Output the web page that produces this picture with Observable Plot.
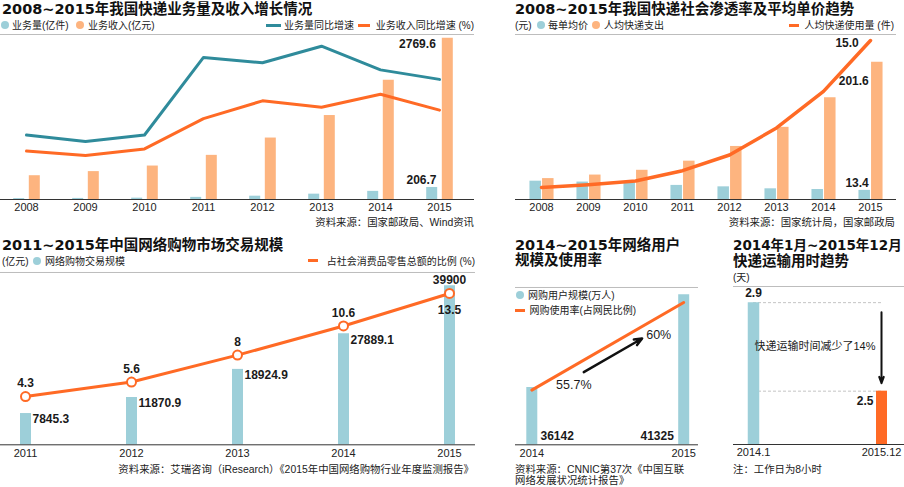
<!DOCTYPE html>
<html><head><meta charset="utf-8">
<script src="https://cdn.jsdelivr.net/npm/d3@7"></script>
<script src="https://cdn.jsdelivr.net/npm/@observablehq/plot@0.6"></script>
<style>
html,body{margin:0;padding:0;background:#fff}
body{width:904px;height:487px;position:relative;overflow:hidden;font-family:"Liberation Sans","Noto Sans CJK SC",sans-serif;color:#1a1a1a}
.a{position:absolute;white-space:nowrap}
.t{font-family:"DejaVu Sans","Noto Sans CJK SC",sans-serif;font-weight:700;font-size:14.5px;line-height:17px;color:#111}
.t2{font-family:"DejaVu Sans","Noto Sans CJK SC",sans-serif;font-weight:700;font-size:13.5px;line-height:17px;color:#111}
.s{font-size:10.4px;line-height:13px;color:#222}
.l{font-size:10px;line-height:13px;color:#222}
</style></head><body><script>
// ---------- data ----------
const years1 = [2008, 2009, 2010, 2011, 2012, 2013, 2014, 2015];
const volume = [15.1, 18.6, 23.4, 36.7, 56.9, 91.9, 139.6, 206.7];          // 业务量(亿件)
const revenue = [408.4, 479.0, 574.6, 758.0, 1055.3, 1441.7, 2045.4, 2769.6]; // 业务收入(亿元)
const volumeGrowth = [25.2, 22.5, 25.2, 57.0, 54.8, 61.6, 51.9, 48.0];     // 业务量同比增速(%)
const revenueGrowth = [18.6, 16.8, 19.5, 31.9, 39.2, 36.6, 41.9, 35.4];    // 业务收入同比增速(%)

const unitPrice = [26.9, 25.6, 24.6, 20.7, 18.6, 15.7, 14.7, 13.4];         // 每单均价(元)
const perCapitaSpend = [30.7, 35.9, 42.9, 56.3, 77.9, 106.0, 149.5, 201.6]; // 人均快递支出(元)
const perCapitaUse = [1.14, 1.40, 1.75, 2.72, 4.20, 6.75, 10.2, 15.0];      // 人均快递使用量(件)

const years3 = [2011, 2012, 2013, 2014, 2015];
const onlineRetail = [7845.3, 11870.9, 18924.9, 27889.1, 39900];  // 网络购物交易规模(亿元)
const retailShare = [4.3, 5.6, 8, 10.6, 13.5];                     // 占社会消费品零售总额的比例(%)

const years4 = [2014, 2015];
const onlineUsers = [36142, 41325]; // 网购用户规模(万人)
const onlineRate = [55.7, 60];      // 网购使用率(%)

const periods5 = ["2014.1", "2015.12"];
const deliveryDays = [2.9, 2.5];    // 快递运输用时(天)

// ---------- style ----------
const COL = {blue: "#9dcfd9", peach: "#fdb47f", teal: "#2f8b9b", orange: "#ff6a25", grid: "#bdbdbd", axis: "#333", ink: "#1a1a1a"};
const FONT = '"Liberation Sans","Noto Sans CJK SC",sans-serif';
const bold = {fontFamily: FONT, fontWeight: "bold", fontSize: 12, fill: COL.ink};
const yearFmt = d => String(d);

function base(width, frameH) {
  return {width, height: 2 + frameH + 20, marginTop: 2, marginBottom: 20, marginLeft: 0, marginRight: 0,
    style: {background: "none", overflow: "visible", fontFamily: FONT, fontSize: "11px", color: "#222"}};
}
function put(svg, left, top) {
  svg.style.position = "absolute"; svg.style.left = left + "px"; svg.style.top = (top - 2) + "px";
  document.body.appendChild(svg);
}
function label(text, x, y, cls, align) {
  const d = document.createElement("div");
  d.className = "a " + cls; d.textContent = text;
  d.style.left = x + "px"; d.style.top = y + "px";
  d.style.transform = align === "right" ? "translate(-100%,-50%)" : "translateY(-50%)";
  document.body.appendChild(d);
}
function dot(x, y, color) {
  const d = document.createElement("div");
  d.className = "a";
  Object.assign(d.style, {left: (x - 4) + "px", top: (y - 4) + "px", width: "8px", height: "8px", borderRadius: "50%", background: color});
  document.body.appendChild(d);
}
function dash(x1, x2, y, color) {
  const d = document.createElement("div");
  d.className = "a";
  Object.assign(d.style, {left: x1 + "px", top: (y - 1.5) + "px", width: (x2 - x1) + "px", height: "3px", background: color});
  document.body.appendChild(d);
}

// ---------- panel 1 ----------
const t1 = years1.map((year, i) => ({year, volume: volume[i], revenue: revenue[i], vg: volumeGrowth[i], rg: revenueGrowth[i]}));
const x1 = {type: "point", domain: years1, range: [25, 440.7], padding: 0, tickSize: 0, tickPadding: 4, tickFormat: yearFmt, label: null};
const y1Max = 2833;
const last1 = t1.slice(-1);
put(Plot.plot({...base(474, 165), x: x1, y: {domain: [0, y1Max], axis: null},
  marks: [
    Plot.ruleY([y1Max], {stroke: COL.grid}),
    Plot.ruleX(t1, {x: "year", y1: 0, y2: "volume", dx: -7.8, stroke: COL.blue, strokeWidth: 11}),
    Plot.ruleX(t1, {x: "year", y1: 0, y2: "revenue", dx: 7.8, stroke: COL.peach, strokeWidth: 11}),
    Plot.ruleY([0], {stroke: COL.axis}),
    Plot.text(last1, {x: "year", y: "revenue", text: d => d.revenue.toFixed(1), textAnchor: "end", dx: -3.7, dy: 5.6, ...bold}),
    Plot.text(last1, {x: "year", y: "volume", text: d => d.volume.toFixed(1), textAnchor: "end", dx: -3, dy: -7.5, ...bold})
  ]}), 0, 34);
put(Plot.plot({...base(474, 165), x: {...x1, axis: null}, y: {domain: [-1.23, 66.4], axis: null},
  marks: [
    Plot.line(t1, {x: "year", y: "vg", stroke: COL.teal, strokeWidth: 3}),
    Plot.line(t1, {x: "year", y: "rg", stroke: COL.orange, strokeWidth: 3})
  ]}), 0, 34);

label("2008~2015年我国快递业务量及收入增长情况", 2, 8.5, "t");
dot(5, 25, COL.blue); label("业务量(亿件)", 12, 25, "l");
dot(80, 25, COL.peach); label("业务收入(亿元)", 88, 25, "l");
dash(266, 281, 25, COL.teal); label("业务量同比增速", 284, 25, "l");
dash(358, 370, 25, COL.orange); label("业务收入同比增速 (%)", 474, 25, "l", "right");
label("资料来源：国家邮政局、Wind资讯", 474, 222, "s", "right");

// ---------- panel 2 ----------
const t2 = years1.map((year, i) => ({year, price: unitPrice[i], spend: perCapitaSpend[i], use: perCapitaUse[i]}));
const x2 = {type: "point", domain: years1, range: [23, 357], padding: 0, tickSize: 0, tickPadding: 4, tickFormat: yearFmt, label: null};
const y2Max = 242.3;
const last2 = t2.slice(-1);
put(Plot.plot({...base(381, 165), x: x2, y: {domain: [0, y2Max], axis: null},
  marks: [
    Plot.ruleY([y2Max], {stroke: COL.grid}),
    Plot.ruleX(t2, {x: "year", y1: 0, y2: "price", dx: -6.3, stroke: COL.blue, strokeWidth: 11.5}),
    Plot.ruleX(t2, {x: "year", y1: 0, y2: "spend", dx: 6.3, stroke: COL.peach, strokeWidth: 11.5}),
    Plot.ruleY([0], {stroke: COL.axis}),
    Plot.text(last2, {x: "year", y: "spend", text: d => d.spend.toFixed(1), textAnchor: "end", dx: -1.7, dy: 19.3, ...bold}),
    Plot.text(last2, {x: "year", y: "price", text: d => d.price.toFixed(1), textAnchor: "end", dx: -1.7, dy: -7.3, ...bold})
  ]}), 515, 34);
put(Plot.plot({...base(381, 165), x: {...x2, axis: null}, y: {domain: [0, 15.57], axis: null},
  marks: [
    Plot.line(t2, {x: "year", y: "use", stroke: COL.orange, strokeWidth: 3.5}),
    Plot.text(last2, {x: "year", y: "use", text: d => d.use.toFixed(1), textAnchor: "end", dx: -11.7, dy: 2.7, ...bold})
  ]}), 515, 34);

label("2008~2015年我国快递社会渗透率及平均单价趋势", 515, 8.5, "t");
label("(元)", 515, 25, "l");
dot(541.3, 25, COL.blue); label("每单均价", 548, 25, "l");
dot(596, 25, COL.peach); label("人均快递支出", 604, 25, "l");
dash(788.7, 798.7, 25, COL.orange); label("人均快递使用量 (件)", 894, 25, "l", "right");
label("资料来源：国家统计局，国家邮政局", 895, 222, "s", "right");

// ---------- panel 3 ----------
const t3 = years3.map((year, i) => ({year, value: onlineRetail[i], share: retailShare[i]}));
const x3 = {type: "point", domain: years3, range: [23.8, 450.5], padding: 0, tickSize: 0, tickPadding: 4, tickFormat: yearFmt, label: null};
const y3Max = 43238;
put(Plot.plot({...base(475, 172.3), x: x3, y: {domain: [0, y3Max], axis: null},
  marks: [
    Plot.ruleY([y3Max], {stroke: COL.grid}),
    Plot.ruleX(t3, {x: "year", y1: 0, y2: "value", stroke: COL.blue, strokeWidth: 11}),
    Plot.ruleY([0], {stroke: COL.axis}),
    Plot.text(t3.slice(0, -1), {x: "year", y: "value", text: d => String(d.value), textAnchor: "start", dx: 7, dy: 6, ...bold}),
    Plot.text(t3.slice(-1), {x: "year", y: "value", text: d => String(d.value), dy: -6, ...bold})
  ]}), 0, 271.7);
put(Plot.plot({...base(475, 172.3), x: {...x3, axis: null}, y: {domain: [0, 15.37], axis: null},
  marks: [
    Plot.line(t3, {x: "year", y: "share", stroke: COL.orange, strokeWidth: 3}),
    Plot.dot(t3, {x: "year", y: "share", r: 4.5, fill: "white", stroke: COL.orange, strokeWidth: 2}),
    Plot.text(t3.slice(0, -1), {x: "year", y: "share", text: d => String(d.share), dy: -13, ...bold}),
    Plot.text(t3.slice(-1), {x: "year", y: "share", text: d => String(d.share), dy: 17, ...bold})
  ]}), 0, 271.7);

label("2011~2015年中国网络购物市场交易规模", 2, 245, "t");
label("(亿元)", 2, 260.7, "l");
dot(37, 260.7, COL.blue); label("网络购物交易规模", 45, 260.7, "l");
dash(308, 318, 260.7, COL.orange); label("占社会消费品零售总额的比例 (%)", 475, 260.7, "l", "right");
label("资料来源：艾瑞咨询（iResearch）《2015年中国网络购物行业年度监测报告》", 474, 468.7, "s", "right");

// ---------- panel 4 ----------
const t4 = years4.map((year, i) => ({year, users: onlineUsers[i], rate: onlineRate[i]}));
const x4 = {type: "linear", domain: [2014, 2015], range: [16.3, 168.2], ticks: years4, tickFormat: yearFmt, tickSize: 0, tickPadding: 4, label: null};
const y4 = [32938, 41733];
put(Plot.plot({...base(183, 157.3), x: x4, y: {domain: y4, axis: null},
  marks: [
    Plot.ruleY([y4[1]], {stroke: COL.grid}),
    Plot.ruleX(t4, {x: "year", y1: y4[0], y2: "users", stroke: COL.blue, strokeWidth: 11}),
    Plot.ruleY([y4[0]], {stroke: COL.axis}),
    Plot.text(t4.slice(0, 1), {x: "year", y: y4[0], text: d => String(d.users), textAnchor: "start", dx: 8.7, dy: -9, ...bold}),
    Plot.text(t4.slice(1), {x: "year", y: y4[0], text: d => String(d.users), textAnchor: "end", dx: -9.9, dy: -9, ...bold})
  ]}), 515, 286.7);
const rateArrow = [{x1: t4[0].year, y1: t4[0].rate, x2: t4[1].year, y2: t4[1].rate}];
const pctStyle = {fontFamily: FONT, fontSize: 12.5, fill: COL.ink};
put(Plot.plot({...base(183, 157.3), x: {...x4, axis: null}, y: {domain: [53.015, 60.737], axis: null},
  marks: [
    Plot.line(t4, {x: "year", y: "rate", stroke: COL.orange, strokeWidth: 3}),
    Plot.arrow(rateArrow, {x1: "x1", y1: "y1", x2: "x2", y2: "y2", insetStart: 60, insetEnd: 48, dy: 12, stroke: "#111", strokeWidth: 2.5, headLength: 5, headAngle: 45}),
    Plot.text(t4.slice(0, 1), {x: "year", y: "rate", text: d => d.rate + "%", dx: 42, dy: -5, ...pctStyle}),
    Plot.text(t4.slice(1), {x: "year", y: "rate", text: d => d.rate + "%", dx: -25, dy: 32.3, ...pctStyle})
  ]}), 515, 286.7);

label("2014~2015年网络用户", 515, 245, "t");
label("规模及使用率", 515, 260, "t");
dot(520, 295, COL.blue); label("网购用户规模(万人)", 528, 295, "l");
dash(515, 525, 310, COL.orange); label("网购使用率(占网民比例)", 529.5, 310, "l");
label("资料来源：CNNIC第37次《中国互联", 515, 469.3, "s");
label("网络发展状况统计报告》", 515, 479.5, "s");

// ---------- panel 5 ----------
const t5 = periods5.map((period, i) => ({period, days: deliveryDays[i]}));
const x5 = {type: "point", domain: periods5, range: [19.5, 148.2], padding: 0, tickSize: 0, tickPadding: 4, label: null};
const y5 = [2.259, 2.973];
const drop = Math.round((1 - deliveryDays[1] / deliveryDays[0]) * 100);
const dayArrow = [{x: periods5[1], from: deliveryDays[0], to: deliveryDays[1]}];
put(Plot.plot({...base(171, 158), x: x5, y: {domain: y5, axis: null},
  marks: [
    Plot.ruleY([y5[1]], {stroke: COL.grid}),
    Plot.ruleY(t5, {y: "days", x1: () => periods5[0], x2: () => periods5[1], stroke: "#c4c4c4", strokeDasharray: "3,2"}),
    Plot.ruleX(t5.slice(0, 1), {x: "period", y1: y5[0], y2: "days", stroke: COL.blue, strokeWidth: 11.5}),
    Plot.ruleX(t5.slice(1), {x: "period", y1: y5[0], y2: "days", stroke: COL.orange, strokeWidth: 11}),
    Plot.ruleY([y5[0]], {stroke: COL.axis}),
    Plot.arrow(dayArrow, {x1: "x", x2: "x", y1: "from", y2: "to", insetStart: 9.5, insetEnd: 8, stroke: "#111", strokeWidth: 2, headLength: 5, headAngle: 40}),
    Plot.text([{x: periods5[1], y: d3.mean(deliveryDays)}], {x: "x", y: "y", text: () => `快递运输时间减少了${drop}%`, textAnchor: "end", dx: -6, fontFamily: FONT, fontSize: 11, fill: COL.ink}),
    Plot.text(t5.slice(0, 1), {x: "period", y: "days", text: d => d.days.toFixed(1), dy: -9, ...bold}),
    Plot.text(t5.slice(1), {x: "period", y: "days", text: d => d.days.toFixed(1), textAnchor: "end", dx: -8, dy: 10, ...bold})
  ]}), 733, 286);

label("2014年1月~2015年12月", 733, 245, "t2");
label("快递运输用时趋势", 733, 260.5, "t");
label("(天)", 733, 276.7, "l");
label("注：工作日为8小时", 733, 469.3, "s");
</script></body></html>
